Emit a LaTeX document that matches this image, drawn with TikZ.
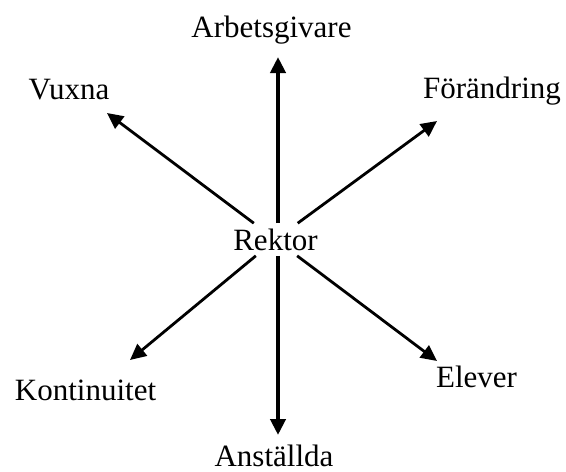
\documentclass[tikz,border=0pt]{standalone}
\usepackage{fontspec}
\setmainfont{Liberation Serif}
\usepackage{tikz}
\usetikzlibrary{
	positioning,
	arrows.meta
}
\tikzset{
	role/.style={
		inner sep=0pt,
		anchor=base,
		font=\fontsize{15.5}{18}\selectfont
	},
	spoke/.style={
		draw=black,
		line width=1.4pt,
		-{Triangle[length=8pt,width=7.5pt]}
	},
	mainspoke/.style={
		spoke,
		line width=2pt
	}
}

\begin{document}
\begin{tikzpicture}[x=0.5pt,y=-0.5pt]
				
				\useasboundingbox (0,0) rectangle (566,471);
				
				\node[
				inner xsep=1pt,
				inner ysep=2.5pt,
				font=\fontsize{15.5}{18}\selectfont
				]
				(R)
				at (275.5,239.5)
				{Rektor};
				
				\node[role] (Arb) at (271.5,37) {Arbetsgivare};
				\node[role] (Vux) at (69,99) {Vuxna};
				\node[role] (For) at (492,98) {Förändring};
				\node[role] (Kon) at (85.5,400) {Kontinuitet};
				\node[role] (Ele) at (476.5,387) {Elever};
				\node[role] (Ans) at (274,466) {Anställda};
				
				% arrow tips
				\coordinate (tArb) at (278,57);
				\coordinate (tVux) at (107,113);
				\coordinate (tFor) at (437,121);
				\coordinate (tKon) at (130,360);
				\coordinate (tEle) at (437,361);
				\coordinate (tAns) at (278,435);
				
				\draw[mainspoke] (R.north -| tArb) -- (tArb);
				\draw[mainspoke] (R.south -| tAns) -- (tAns);
				\draw[spoke] (R) -- (tVux);
				\draw[spoke] (R) -- (tFor);
				\draw[spoke] (R) -- (tKon);
				\draw[spoke] (R) -- (tEle);
				
			\end{tikzpicture}
\end{document}
